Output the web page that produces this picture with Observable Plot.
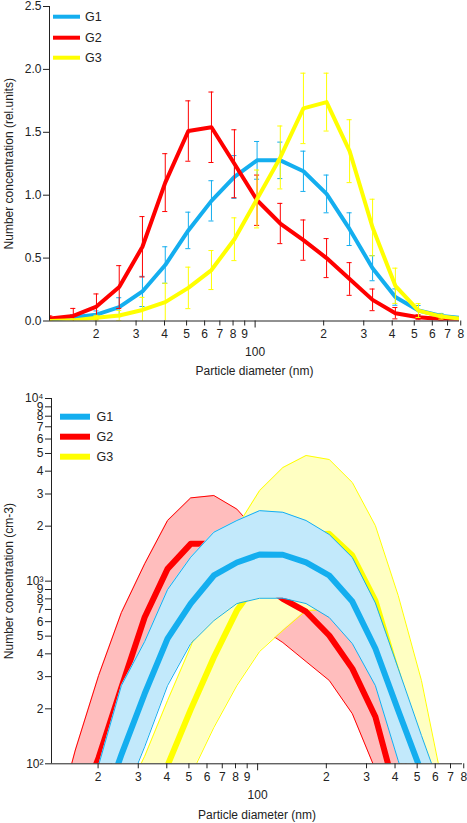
<!DOCTYPE html>
<html>
<head>
<meta charset="utf-8">
<script src="https://cdn.jsdelivr.net/npm/d3@7"></script>
<script src="https://cdn.jsdelivr.net/npm/@observablehq/plot@0.6"></script>
<style>
  body { margin: 0; background: #fff; }
  #wrap { position: relative; width: 467px; height: 823px; font-family: "Liberation Sans", Arial, sans-serif; }
  #wrap svg { display: block; }
  .legend { position: absolute; left: 0; pointer-events: none; }
</style>
</head>
<body>
<div id="wrap"></div>
<script>
// ---------- data ----------
const diameters = [12.6, 15.9, 20.1, 25.3, 32.0, 40.3, 50.9, 64.3, 81.1, 102, 129, 163, 206, 260, 328, 413, 522, 658, 831];

// top panel: relative number concentration, mean and error
const relG1    = [0.01, 0.03, 0.05, 0.11, 0.235, 0.445, 0.72, 0.955, 1.145, 1.277, 1.277, 1.19, 1.01, 0.73, 0.42, 0.19, 0.083, 0.04, 0.02];
const relG1Err = [0.01, 0.02, 0.03, 0.075, 0.12, 0.145, 0.145, 0.16, 0.17, 0.15, 0.145, 0.16, 0.15, 0.13, 0.10, 0.065, 0.04, 0.02, 0.01];
const relG2    = [0.02, 0.04, 0.115, 0.27, 0.59, 1.10, 1.51, 1.54, 1.25, 0.96, 0.775, 0.643, 0.50, 0.334, 0.168, 0.062, 0.03, 0.015, 0.01];
const relG2Err = [0.02, 0.06, 0.10, 0.17, 0.24, 0.23, 0.24, 0.28, 0.27, 0.20, 0.16, 0.16, 0.155, 0.13, 0.086, 0.045, 0.02, 0.01, 0.005];
const relG3    = [0.0, 0.005, 0.025, 0.044, 0.088, 0.15, 0.263, 0.405, 0.65, 0.97, 1.30, 1.69, 1.74, 1.35, 0.743, 0.28, 0.083, 0.035, 0.015];
const relG3Err = [0.005, 0.01, 0.02, 0.04, 0.10, 0.15, 0.165, 0.155, 0.17, 0.23, 0.25, 0.28, 0.23, 0.25, 0.225, 0.14, 0.055, 0.02, 0.01];

// bottom panel: number concentration (cm-3), mean and band limits
const absG1    = [30, 40, 50, 112, 242, 485, 754, 1074, 1265, 1400, 1395, 1268, 1074, 773, 428, 196, 90, 40, 20];
const absG1Hi  = [40, 60, 98, 268, 467, 899, 1352, 1853, 2148, 2432, 2383, 2148, 1800, 1347, 760, 333, 143, 64, 30];
const absG1Lo  = [15, 20, 30, 60, 124, 268, 455, 608, 754, 806, 806, 754, 632, 455, 268, 104, 45, 20, 10];
const absG2    = [30, 50, 108, 262, 634, 1167, 1600, 1600, 1300, 1000, 800, 680, 504, 332, 181, 62, 30, 15, 8];
const absG2Hi  = [40, 119, 304, 673, 1245, 2147, 2857, 2943, 2480, 1800, 1440, 1220, 900, 590, 320, 130, 60, 30, 15];
const absG2Lo  = [20, 30, 58, 155, 330, 630, 890, 890, 720, 560, 461, 363, 286, 188, 93, 40, 20, 10, 5];
const absG3    = [10, 15, 20, 30, 45, 98, 198, 383, 690, 1030, 1380, 1790, 1815, 1381, 783, 300, 85, 30, 15];
const absG3Hi  = [20, 30, 40, 60, 110, 222, 438, 950, 1980, 3133, 4188, 4875, 4634, 3467, 2014, 834, 286, 69, 30];
const absG3Lo  = [5, 8, 10, 15, 25, 40, 86, 158, 268, 412, 537, 690, 700, 540, 307, 115, 40, 15, 8];

const groupNames = ["G1", "G2", "G3"];
const xMinorTicks = [20, 30, 40, 50, 60, 70, 80, 90, 200, 300, 400, 500, 600, 700, 800];
const xMajorTicks = [100];
const yRelTicks = [0, 0.5, 1.0, 1.5, 2.0, 2.5];
const yAbsTicks = [100, 200, 300, 400, 500, 600, 700, 800, 900, 1000, 2000, 3000, 4000, 5000, 6000, 7000, 8000, 9000, 10000];

// ---------- styles ----------
const colBlue = "#14aeef", colRed = "#ff0000", colYellow = "#ffff00";
const fillBlue = "#c2e9fb", fillRed = "#ffbdbd", fillYellow = "#ffffc2";
const ink = "#222";
const xDomain = [12.5, 790];
const font = "Liberation Sans, Arial, sans-serif";

function relRows(v, e) { return diameters.map((d, i) => ({d, v: v[i], lo: v[i] - e[i], hi: v[i] + e[i]})); }
function absRows(v, lo, hi) { return diameters.map((d, i) => ({d, v: v[i], lo: lo[i], hi: hi[i]})); }

const r1 = relRows(relG1, relG1Err), r2 = relRows(relG2, relG2Err), r3 = relRows(relG3, relG3Err);
const a1 = absRows(absG1, absG1Lo, absG1Hi), a2 = absRows(absG2, absG2Lo, absG2Hi), a3 = absRows(absG3, absG3Lo, absG3Hi);

const capW = 1.026;
function errMarks(rows, color) {
  return [
    Plot.ruleX(rows, {x: "d", y1: "lo", y2: "hi", stroke: color, strokeWidth: 1, clip: true}),
    Plot.ruleY(rows, {y: "hi", x1: d => d.d / capW, x2: d => d.d * capW, stroke: color, strokeWidth: 1, clip: true}),
    Plot.ruleY(rows, {y: "lo", x1: d => d.d / capW, x2: d => d.d * capW, stroke: color, strokeWidth: 1, clip: true})
  ];
}
function relLine(rows, color) {
  return Plot.line(rows, {x: "d", y: "v", stroke: color, strokeWidth: 4, clip: true, strokeLinejoin: "round"});
}
function xAxes() {
  return [
    Plot.axisX({ticks: xMinorTicks, tickFormat: () => "", tickSize: 5, label: null, stroke: ink}),
    Plot.axisX({ticks: xMajorTicks, tickFormat: () => "", tickSize: 7, label: null, stroke: ink}),
    Plot.text(xMinorTicks, {x: d => d, text: d => String(d).charAt(0), frameAnchor: "bottom", dy: 13, lineAnchor: "middle", textAnchor: "middle", fontSize: 12, fill: ink}),
    Plot.text(xMajorTicks, {x: d => d, text: d => String(d), frameAnchor: "bottom", dy: 31.5, lineAnchor: "middle", textAnchor: "middle", fontSize: 12, fill: ink})
  ];
}
function yAxis(ticks, fmt) {
  return [
    Plot.axisY({ticks, tickFormat: () => "", tickSize: 6, label: null, stroke: ink}),
    Plot.text(ticks, {y: d => d, text: fmt, frameAnchor: "left", dx: -8, textAnchor: "end", lineAnchor: "middle", fontSize: 12, fill: ink})
  ];
}

// ---------- top chart ----------
const topChart = Plot.plot({
  width: 467, height: 388,
  marginTop: 6, marginBottom: 67.5, marginLeft: 49, marginRight: 8,
  style: {fontFamily: font, fontSize: "12px", color: ink, background: "#fff", overflow: "visible"},
  x: {type: "log", domain: xDomain},
  y: {domain: [0, 2.5]},
  marks: [
    ...errMarks(r1, colBlue), relLine(r1, colBlue),
    ...errMarks(r2, colRed), relLine(r2, colRed),
    ...errMarks(r3, colYellow), relLine(r3, colYellow),
    Plot.ruleX([xDomain[0]], {stroke: ink}),
    Plot.ruleY([0], {stroke: ink}),
    ...yAxis(yRelTicks, d3.format(".1f")),
    ...xAxes(),
    Plot.text(["Number concentration (rel.units)"], {frameAnchor: "left", dx: -40, rotate: -90, textAnchor: "middle", lineAnchor: "middle", fontSize: 12, fill: ink}),
    Plot.text(["Particle diameter (nm)"], {frameAnchor: "bottom", dy: 50.5, textAnchor: "middle", lineAnchor: "middle", fontSize: 12, fill: ink})
  ]
});

// ---------- bottom chart ----------
function band(rows, fill, stroke) {
  return [
    Plot.areaY(rows, {x: "d", y1: "lo", y2: "hi", fill, clip: true}),
    Plot.line(rows, {x: "d", y: "hi", stroke, strokeWidth: 1, clip: true}),
    Plot.line(rows, {x: "d", y: "lo", stroke, strokeWidth: 1, clip: true})
  ];
}
function absLine(rows, color) {
  return Plot.line(rows, {x: "d", y: "v", stroke: color, strokeWidth: 6, clip: true, strokeLinejoin: "round"});
}
const supers = {2: "²", 3: "³", 4: "⁴"};
const logFmt = d => {
  const e = Math.round(Math.log10(d));
  return Math.abs(Math.log10(d) - e) < 1e-9 ? "10" + supers[e] : String(d).charAt(0);
};
const bottomChart = Plot.plot({
  width: 467, height: 435,
  marginTop: 10, marginBottom: 59.7, marginLeft: 51, marginRight: 5,
  style: {fontFamily: font, fontSize: "12px", color: ink, background: "#fff", overflow: "visible"},
  x: {type: "log", domain: xDomain},
  y: {type: "log", domain: [100, 10000]},
  marks: [
    ...band(a2, fillRed, colRed),
    ...band(a3, fillYellow, colYellow),
    absLine(a2, colRed),
    absLine(a3, colYellow),
    ...band(a1, fillBlue, colBlue),
    absLine(a1, colBlue),
    Plot.ruleX([xDomain[0]], {stroke: ink}),
    Plot.ruleY([100], {stroke: ink}),
    ...yAxis(yAbsTicks, logFmt),
    ...xAxes(),
    Plot.text(["Number concentration (cm-3)"], {frameAnchor: "left", dx: -42, rotate: -90, textAnchor: "middle", lineAnchor: "middle", fontSize: 12, fill: ink}),
    Plot.text(["Particle diameter (nm)"], {frameAnchor: "bottom", dy: 51.7, textAnchor: "middle", lineAnchor: "middle", fontSize: 12, fill: ink})
  ]
});

const wrap = document.getElementById("wrap");
wrap.appendChild(topChart);
wrap.appendChild(bottomChart);

// ---------- legends (overlaid inside the plot areas) ----------
function legend(topPx, x0, x1, ys, gap, lw) {
  const colors = [colBlue, colRed, colYellow];
  const svg = d3.create("svg").attr("class", "legend").attr("width", 120).attr("height", 80)
    .style("top", topPx + "px");
  groupNames.forEach((g, i) => {
    svg.append("line").attr("x1", x0).attr("x2", x1).attr("y1", ys[i]).attr("y2", ys[i])
      .attr("stroke", colors[i]).attr("stroke-width", lw);
    svg.append("text").attr("x", x1 + gap).attr("y", ys[i]).attr("dy", "0.35em")
      .attr("font-family", font).attr("font-size", 12.5).attr("fill", ink).text(g);
  });
  wrap.appendChild(svg.node());
}
legend(0, 53, 80, [16.7, 37.7, 57.7], 5, 4);
legend(388, 60, 90, [28.7, 48.7, 68.7], 6.5, 6);
</script>
</body>
</html>
